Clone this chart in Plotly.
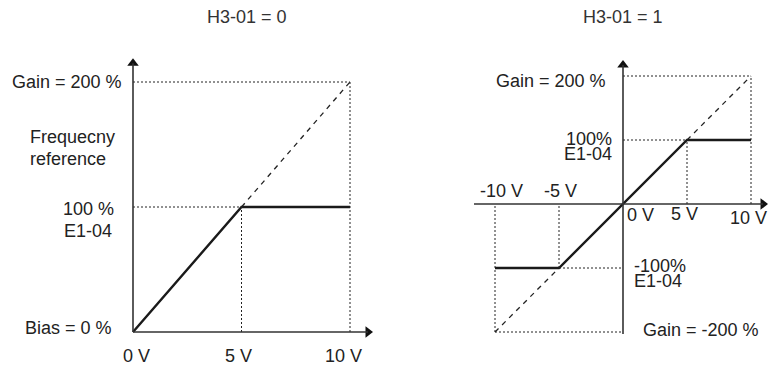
import plotly.graph_objects as go

# ---------------- data ----------------
# Left panel (H3-01 = 0)
left_volts = [0, 5, 10]
left_ref = [0, 100, 100]
left_ext_volts = [5, 10]
left_ext_ref = [100, 200]
left_xticks = [0, 5, 10]
left_xtick_labels = ["0 V", "5 V", "10 V"]

# Right panel (H3-01 = 1)
right_volts = [-10, -5, 5, 10]
right_ref = [-100, -100, 100, 100]
right_ext_lo_volts = [-10, -5]
right_ext_lo_ref = [-200, -100]
right_ext_hi_volts = [5, 10]
right_ext_hi_ref = [100, 200]
right_xticks = [-10, -5, 0, 5, 10]
right_xtick_labels = ["-10 V", "-5 V", "0 V", "5 V", "10 V"]

# axis extents (data units)
left_x_end, left_y_end = 10.83, 215
right_x_start, right_x_end = -11.64, 10.94
right_y_start, right_y_end = -203, 217

W, H = 769, 365
FONT = "Liberation Sans, Arial, sans-serif"
TXT = "#222222"
FS = 18

fig = go.Figure()

# pixel mapping setup -> axis ranges
lx0, lsx = 133, 21.7
ly0, lsy = 332, 1.25
rx0, rsx = 623, 12.8
ry0, rsy = 204, 0.64
half = W / 2

fig.update_layout(
    width=W, height=H, margin=dict(l=0, r=0, t=0, b=0),
    paper_bgcolor="white", plot_bgcolor="white", showlegend=False,
    xaxis=dict(domain=[0, 0.5], range=[(0 - lx0) / lsx, (half - lx0) / lsx], visible=False, fixedrange=True),
    yaxis=dict(domain=[0, 1], range=[(ly0 - H) / lsy, ly0 / lsy], visible=False, fixedrange=True),
    xaxis2=dict(domain=[0.5, 1], range=[(half - rx0) / rsx, (W - rx0) / rsx], visible=False, fixedrange=True,
                anchor="y2"),
    yaxis2=dict(domain=[0, 1], range=[(ry0 - H) / rsy, ry0 / rsy], anchor="x2", visible=False, fixedrange=True),
)

shapes = []


def dotted(x0, y0, x1, y1, xr, yr):
    shapes.append(dict(type="line", x0=x0, y0=y0, x1=x1, y1=y1, xref=xr, yref=yr,
                       line=dict(color="#222", width=1, dash="2px,2px")))


def axis_line(x0, y0, x1, y1, xr, yr):
    shapes.append(dict(type="line", x0=x0, y0=y0, x1=x1, y1=y1, xref=xr, yref=yr,
                       line=dict(color="#333", width=1.6)))


# ----- left guides -----
lx_max, ly_max = left_ext_volts[-1], left_ext_ref[-1]
lx_knee, ly_knee = left_volts[1], left_ref[1]
dotted(0, ly_max, lx_max, ly_max, "x", "y")
dotted(lx_max, 0, lx_max, ly_max, "x", "y")
dotted(0, ly_knee, lx_knee, ly_knee, "x", "y")
dotted(lx_knee, 0, lx_knee, ly_knee, "x", "y")
axis_line(0, 0, 0, left_y_end, "x", "y")
axis_line(0, 0, left_x_end, 0, "x", "y")

# ----- right guides -----
rx_max, ry_max = right_ext_hi_volts[-1], right_ext_hi_ref[-1]
rx_min, ry_min = right_ext_lo_volts[0], right_ext_lo_ref[0]
dotted(0, ry_max, rx_max, ry_max, "x2", "y2")
dotted(rx_max, 0, rx_max, ry_max, "x2", "y2")
dotted(0, right_ref[2], right_volts[2], right_ref[2], "x2", "y2")
dotted(right_volts[2], 0, right_volts[2], right_ref[2], "x2", "y2")
dotted(right_volts[1], right_ref[1], 0, right_ref[1], "x2", "y2")
dotted(right_volts[1], right_ref[1], right_volts[1], 0, "x2", "y2")
dotted(rx_min, ry_min, rx_min, 0, "x2", "y2")
dotted(rx_min, ry_min, 0, ry_min, "x2", "y2")
axis_line(0, right_y_start, 0, right_y_end, "x2", "y2")
axis_line(right_x_start, 0, right_x_end, 0, "x2", "y2")

fig.update_layout(shapes=shapes)

dash_style = dict(color="#222", width=1.3, dash="5px,5px")
solid_style = dict(color="#1a1a1a", width=2.4)

fig.add_trace(go.Scatter(x=left_ext_volts, y=left_ext_ref, mode="lines", line=dash_style,
                         xaxis="x", yaxis="y", hoverinfo="skip"))
fig.add_trace(go.Scatter(x=right_ext_lo_volts, y=right_ext_lo_ref, mode="lines", line=dash_style,
                         xaxis="x2", yaxis="y2", hoverinfo="skip"))
fig.add_trace(go.Scatter(x=right_ext_hi_volts, y=right_ext_hi_ref, mode="lines", line=dash_style,
                         xaxis="x2", yaxis="y2", hoverinfo="skip"))
fig.add_trace(go.Scatter(x=left_volts, y=left_ref, mode="lines", line=solid_style,
                         xaxis="x", yaxis="y", hoverinfo="skip"))
fig.add_trace(go.Scatter(x=right_volts, y=right_ref, mode="lines", line=solid_style,
                         xaxis="x2", yaxis="y2", hoverinfo="skip"))

arrow = dict(color="#111", size=10, line=dict(width=0))
fig.add_trace(go.Scatter(x=[0], y=[left_y_end], mode="markers", marker=dict(symbol="triangle-up", **arrow),
                         xaxis="x", yaxis="y", hoverinfo="skip"))
fig.add_trace(go.Scatter(x=[left_x_end], y=[0], mode="markers", marker=dict(symbol="triangle-right", **arrow),
                         xaxis="x", yaxis="y", hoverinfo="skip"))
fig.add_trace(go.Scatter(x=[0], y=[right_y_end], mode="markers", marker=dict(symbol="triangle-up", **arrow),
                         xaxis="x2", yaxis="y2", hoverinfo="skip"))
fig.add_trace(go.Scatter(x=[right_x_end], y=[0], mode="markers", marker=dict(symbol="triangle-right", **arrow),
                         xaxis="x2", yaxis="y2", hoverinfo="skip"))

annots = []


def label(text, px, py, xanchor="center", size=FS, color=TXT):
    annots.append(dict(text=text, x=px / W, y=1 - py / H, xref="paper", yref="paper",
                       xanchor=xanchor, yanchor="middle", showarrow=False,
                       font=dict(family=FONT, size=size, color=color)))


label("H3-01 = 0", 247, 17, color="#333")
label("H3-01 = 1", 623, 17, color="#333")

label("Gain = 200 %", 124, 82, "right")
label("Frequecny", 28, 137, "left")
label("reference", 28, 159, "left")
label("100 %", 88, 209)
label("E1-04", 88, 231)
label("Bias = 0 %", 114, 328, "right")
left_tick_px = {0: 136, 5: 238, 10: 343}
for v, t in zip(left_xticks, left_xtick_labels):
    label(t, left_tick_px[v], 356)

label("Gain = 200 %", 608, 81, "right")
label("100%", 614, 139, "right")
label("E1-04", 614, 154, "right")
label("-100%", 632, 266, "left")
label("E1-04", 632, 281, "left")
label("Gain = -200 %", 641, 330, "left")
right_tick_pos = {-10: (501, 191), -5: (560, 191), 0: (640, 215), 5: (684, 214), 10: (748, 218)}
for v, t in zip(right_xticks, right_xtick_labels):
    px, py = right_tick_pos[v]
    label(t, px, py)

fig.update_layout(annotations=annots)

fig.write_html("out.html", config={"displayModeBar": False, "staticPlot": True},
               post_script="document.body.style.margin='0';document.body.style.overflow='hidden';")
